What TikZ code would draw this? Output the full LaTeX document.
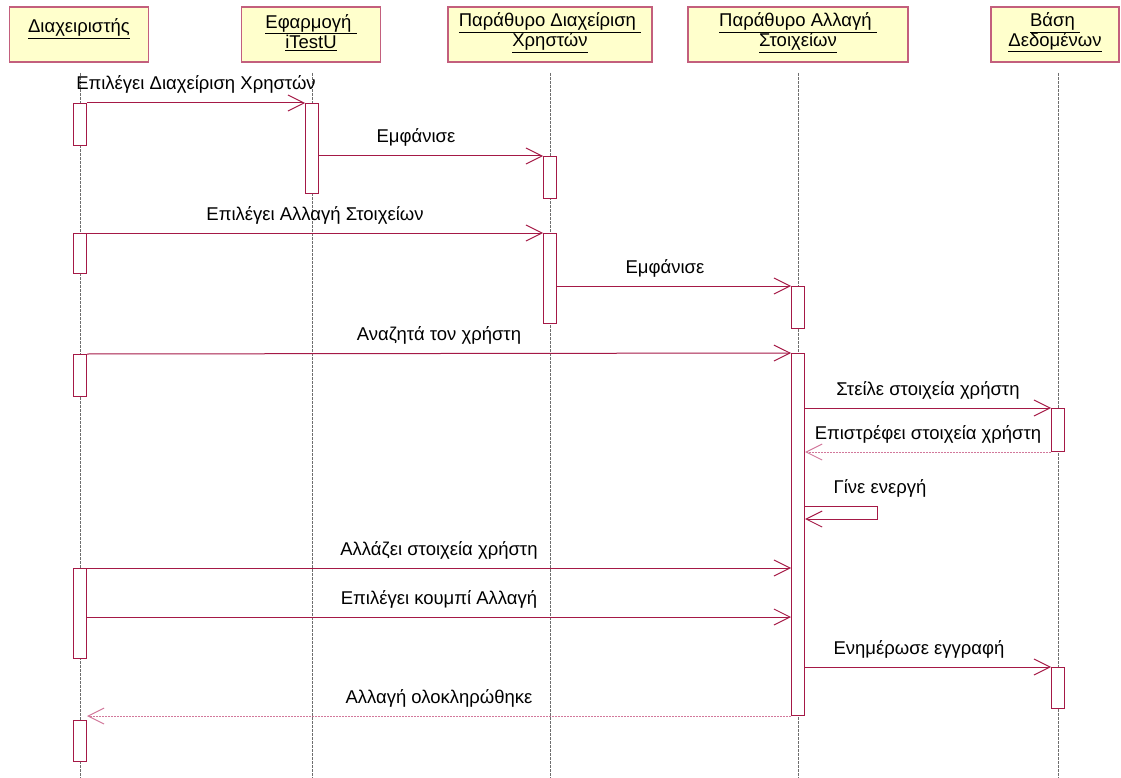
\documentclass[tikz,border=0pt]{standalone}
\usepackage{fontspec}
\setmainfont{Liberation Sans}
\usetikzlibrary{arrows.meta}
\definecolor{msgred}{RGB}{165,25,70}
\definecolor{retpink}{RGB}{210,120,155}
\definecolor{headfill}{RGB}{255,255,204}
\definecolor{headline}{RGB}{195,95,125}
\definecolor{lifegray}{RGB}{110,110,110}
\begin{document}
\begin{tikzpicture}[x=1pt,y=-1pt,
  actor/.style={draw=headline, line width=1.3, fill=headfill, minimum height=55, inner sep=0},
  actortext/.style={inner sep=0, align=center, font=\fontsize{18.5}{20}\selectfont, yshift=2},
  lifeline/.style={draw=lifegray, line width=0.8, dash pattern=on 3 off 1},
  act/.style={draw=msgred, fill=white, line width=1, minimum width=13, inner sep=0, anchor=north},
  msg/.style={draw=msgred, line width=1, -{Straight Barb[length=16,width=16]}},
  ret/.style={draw=retpink, line width=1, dash pattern=on 2 off 1, -{Straight Barb[length=16,width=16]}},
  lbl/.style={font=\fontsize{18.5}{20}\selectfont, anchor=base, inner sep=0, yshift=13}]
\useasboundingbox (0,0) rectangle (1121,778);

% participants
\node[actor, minimum width=139] (h1) at (79,34.5) {};
\node[actortext, yshift=-3] (t1) at (h1.center) {\underline{Διαχειριστής}\\\mbox{}};
\node[actor, minimum width=139] (h2) at (311,34.5) {};
\node[actortext] (t2) at (h2.center) {\underline{Εφαρμογή\ }\\\underline{iTestU}};
\node[actor, minimum width=204] (h3) at (550,34.5) {};
\node[actortext] (t3) at (h3.center) {\underline{Παράθυρο Διαχείριση\ }\\\underline{Χρηστών}};
\node[actor, minimum width=220] (h4) at (798,34.5) {};
\node[actortext] (t4) at (h4.center) {\underline{Παράθυρο Αλλαγή\ }\\\underline{Στοιχείων}};
\node[actor, minimum width=128] (h5) at (1055,34.5) {};
\node[actortext] (t5) at (h5.center) {\underline{Βάση\ }\\\underline{Δεδομένων}};

% lifelines
\draw[lifeline] (80,73) -- (80,778);
\draw[lifeline] (312,73) -- (312,778);
\draw[lifeline] (550,73) -- (550,778);
\draw[lifeline] (798,73) -- (798,778);
\draw[lifeline] (1058,73) -- (1058,778);

% activations
\node[act, minimum height=42] (d1) at (80,103) {};
\node[act, minimum height=40] (d2) at (80,233) {};
\node[act, minimum height=42] (d3) at (80,354) {};
\node[act, minimum height=90] (d4) at (80,568) {};
\node[act, minimum height=41] (d5) at (80,720) {};
\node[act, minimum height=90] (e1) at (312,103) {};
\node[act, minimum height=42] (p1) at (550,156) {};
\node[act, minimum height=90] (p2) at (550,233) {};
\node[act, minimum height=42] (s1) at (798,286) {};
\node[act, minimum height=362] (s2) at (798,353) {};
\node[act, minimum height=43] (b1) at (1058,408) {};
\node[act, minimum height=41] (b2) at (1058,667) {};

% messages
\draw[msg] (d1.north east) -- node[lbl] {Επιλέγει Διαχείριση Χρηστών} (e1.north west);
\draw[msg] (e1.east |- p1.north) -- node[lbl, xshift=-15] {Εμφάνισε} (p1.north west);
\draw[msg] (d2.north east) -- node[lbl] {Επιλέγει Αλλαγή Στοιχείων} (p2.north west);
\draw[msg] (p2.east |- s1.north) -- node[lbl, xshift=-9] {Εμφάνισε} (s1.north west);
\draw[msg] (d3.north east) -- node[lbl] {Αναζητά τον χρήστη} (s2.north west);
\draw[msg] (s2.east |- b1.north) -- node[lbl] {Στείλε στοιχεία χρήστη} (b1.north west);
\draw[ret] (b1.south west) -- node[lbl] {Επιστρέφει στοιχεία χρήστη} (s2.east |- b1.south);
\draw[msg] (s2.east |- 0,506) -- ++(72,0) -- ++(0,13) -- (s2.east |- 0,519);
\node[lbl] (selfl) at (880,506) {Γίνε ενεργή};
\draw[msg] (d4.north east) -- node[lbl] {Αλλάζει στοιχεία χρήστη} (s2.west |- d4.north);
\draw[msg] (d4.east |- 0,617) -- node[lbl] {Επιλέγει κουμπί Αλλαγή} (s2.west |- 0,617);
\draw[msg] (s2.east |- b2.north) -- node[lbl, xshift=-9] {Ενημέρωσε εγγραφή} (b2.north west);
\draw[ret] (s2.south west) -- node[lbl] {Αλλαγή ολοκληρώθηκε} (d5.east |- s2.south);
\end{tikzpicture}
\end{document}
